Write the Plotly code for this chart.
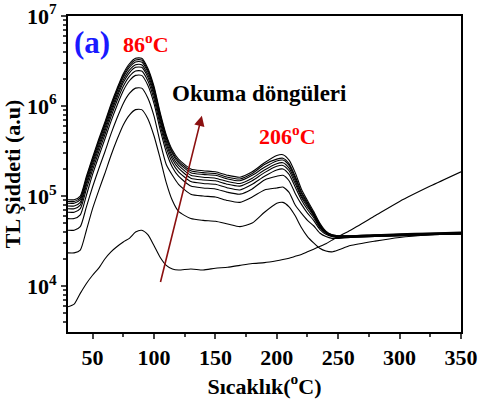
import plotly.graph_objects as go
import math

# Temperature grid (°C)
temp = [30, 35, 40, 45, 50, 55, 60, 65, 70, 75, 80, 85, 90, 95, 100, 105, 110, 115, 120,
        130, 140, 150, 160, 170, 180, 190,
        200, 205, 210, 215, 220, 225, 230, 235, 240, 245, 250,
        260, 280, 300, 325, 350]

# TL intensity (a.u.) for each readout cycle
cycle1 = [5.9e3, 6.3e3, 8.3e3, 1.07e4, 1.32e4, 1.58e4, 2.0e4, 2.40e4, 2.75e4, 3.09e4, 3.39e4, 3.98e4, 4.17e4, 3.72e4, 2.82e4, 2.09e4, 1.70e4, 1.55e4, 1.51e4,
          1.55e4, 1.51e4, 1.58e4, 1.62e4, 1.70e4, 1.78e4, 1.82e4,
          1.91e4, 1.97e4, 2.04e4, 2.14e4, 2.24e4, 2.40e4, 2.57e4, 2.75e4, 2.95e4, 3.24e4, 3.55e4,
          4.17e4, 6.03e4, 8.71e4, 1.29e5, 1.86e5]
cycle2 = [2.34e4, 2.34e4, 2.51e4, 4.17e4, 7.24e4, 1.15e5, 1.78e5, 2.82e5, 4.27e5, 6.17e5, 7.94e5, 9.12e5, 9.12e5, 7.24e5, 4.68e5, 2.63e5, 1.41e5, 8.91e4, 6.76e4,
          5.62e4, 5.37e4, 5.25e4, 4.90e4, 4.57e4, 5.01e4, 6.61e4,
          8.32e4, 8.51e4, 7.59e4, 6.03e4, 4.47e4, 3.55e4, 3.02e4, 2.63e4, 2.45e4, 2.40e4, 2.51e4,
          2.82e4, 3.16e4, 3.47e4, 3.72e4, 3.89e4]
cycle3 = [4.17e4, 4.17e4, 4.57e4, 7.59e4, 1.26e5, 2.0e5, 3.09e5, 4.90e5, 7.41e5, 1.07e6, 1.38e6, 1.58e6, 1.58e6, 1.23e6, 7.76e5, 3.98e5, 2.24e5, 1.70e5, 1.35e5,
          1.05e5, 1.0e5, 9.77e4, 8.91e4, 8.51e4, 9.77e4, 1.17e5,
          1.23e5, 1.26e5, 1.10e5, 7.94e4, 6.46e4, 5.37e4, 4.68e4, 3.89e4, 3.55e4, 3.39e4, 3.39e4,
          3.47e4, 3.55e4, 3.63e4, 3.72e4, 3.80e4]
cycle4 = [5.62e4, 5.62e4, 6.17e4, 1.02e5, 1.74e5, 2.75e5, 4.27e5, 6.76e5, 1.02e6, 1.48e6, 1.91e6, 2.19e6, 2.19e6, 1.70e6, 1.07e6, 5.50e5, 3.09e5, 2.09e5, 1.66e5,
          1.29e5, 1.23e5, 1.20e5, 1.10e5, 1.05e5, 1.20e5, 1.51e5,
          1.66e5, 1.70e5, 1.48e5, 1.07e5, 8.13e4, 6.46e4, 5.37e4, 4.27e4, 3.76e4, 3.55e4, 3.47e4,
          3.47e4, 3.55e4, 3.63e4, 3.72e4, 3.80e4]
cycle5 = [6.61e4, 6.61e4, 7.24e4, 1.20e5, 1.95e5, 3.09e5, 4.79e5, 7.59e5, 1.15e6, 1.66e6, 2.14e6, 2.45e6, 2.45e6, 1.91e6, 1.20e6, 6.17e5, 3.47e5, 2.34e5, 1.86e5,
          1.45e5, 1.38e5, 1.35e5, 1.23e5, 1.17e5, 1.35e5, 1.66e5,
          1.95e5, 2.0e5, 1.74e5, 1.26e5, 9.12e4, 7.08e4, 5.75e4, 4.47e4, 3.89e4, 3.55e4, 3.47e4,
          3.55e4, 3.63e4, 3.63e4, 3.72e4, 3.80e4]
cycle6 = [7.24e4, 7.24e4, 7.94e4, 1.32e5, 2.14e5, 3.39e5, 5.25e5, 8.32e5, 1.26e6, 1.82e6, 2.34e6, 2.69e6, 2.69e6, 2.09e6, 1.32e6, 6.76e5, 3.80e5, 2.57e5, 2.04e5,
          1.58e5, 1.51e5, 1.48e5, 1.35e5, 1.29e5, 1.48e5, 1.82e5,
          2.14e5, 2.19e5, 1.91e5, 1.38e5, 9.77e4, 7.59e4, 6.03e4, 4.57e4, 3.89e4, 3.63e4, 3.55e4,
          3.55e4, 3.63e4, 3.72e4, 3.80e4, 3.80e4]
cycle7 = [7.76e4, 7.76e4, 8.51e4, 1.41e5, 2.29e5, 3.63e5, 5.62e5, 8.91e5, 1.35e6, 1.95e6, 2.51e6, 2.88e6, 2.88e6, 2.24e6, 1.41e6, 7.24e5, 4.07e5, 2.75e5, 2.19e5,
          1.70e5, 1.62e5, 1.58e5, 1.45e5, 1.38e5, 1.58e5, 1.95e5,
          2.29e5, 2.34e5, 2.04e5, 1.48e5, 1.02e5, 7.94e4, 6.17e4, 4.68e4, 3.98e4, 3.63e4, 3.55e4,
          3.55e4, 3.63e4, 3.72e4, 3.80e4, 3.89e4]
cycle8 = [8.32e4, 8.32e4, 9.12e4, 1.51e5, 2.45e5, 3.89e5, 6.03e5, 9.55e5, 1.45e6, 2.09e6, 2.69e6, 3.09e6, 3.09e6, 2.40e6, 1.51e6, 7.76e5, 4.37e5, 2.95e5, 2.34e5,
          1.82e5, 1.74e5, 1.70e5, 1.55e5, 1.48e5, 1.70e5, 2.09e5,
          2.45e5, 2.51e5, 2.19e5, 1.58e5, 1.08e5, 8.2e4, 6.31e4, 4.79e4, 3.98e4, 3.67e4, 3.59e4,
          3.59e4, 3.67e4, 3.76e4, 3.85e4, 3.94e4]
cycle9 = [8.71e4, 8.71e4, 9.55e4, 1.58e5, 2.57e5, 4.07e5, 6.31e5, 1.0e6, 1.51e6, 2.19e6, 2.82e6, 3.24e6, 3.24e6, 2.51e6, 1.58e6, 8.13e5, 4.57e5, 3.09e5, 2.45e5,
          1.91e5, 1.82e5, 1.78e5, 1.62e5, 1.55e5, 1.78e5, 2.24e5,
          2.57e5, 2.63e5, 2.29e5, 1.66e5, 1.12e5, 8.51e4, 6.46e4, 4.90e4, 3.98e4, 3.72e4, 3.63e4,
          3.63e4, 3.72e4, 3.72e4, 3.80e4, 3.89e4]
cycle10 = [9.1e4, 9.1e4, 1.0e5, 1.66e5, 2.69e5, 4.27e5, 6.61e5, 1.05e6, 1.58e6, 2.29e6, 2.95e6, 3.39e6, 3.39e6, 2.63e6, 1.66e6, 8.51e5, 4.79e5, 3.24e5, 2.57e5,
           2.0e5, 1.91e5, 1.86e5, 1.70e5, 1.62e5, 1.86e5, 2.34e5,
           2.82e5, 2.88e5, 2.51e5, 1.82e5, 1.20e5, 8.91e4, 6.76e4, 5.01e4, 4.07e4, 3.72e4, 3.63e4,
           3.63e4, 3.72e4, 3.80e4, 3.89e4, 3.98e4]

cycles = [cycle1, cycle2, cycle3, cycle4, cycle5, cycle6, cycle7, cycle8, cycle9, cycle10]

# Tick labels
x_ticks = [50, 100, 150, 200, 250, 300, 350]
x_ticktext = ["<b>50</b>", "<b>100</b>", "<b>150</b>", "<b>200</b>", "<b>250</b>", "<b>300</b>", "<b>350</b>"]
x_minor = [75, 125, 175, 225, 275, 325]
y_ticks = [1e4, 1e5, 1e6, 1e7]
y_ticktext = ["<b>10<sup>4</sup></b>", "<b>10<sup>5</sup></b>", "<b>10<sup>6</sup></b>", "<b>10<sup>7</sup></b>"]

# Arrow (data coords: temperature, intensity)
arrow_tail = (105, 1.07e4)
arrow_head = (139, 7.8e5)

FONT = "Liberation Serif"
FS = 22

fig = go.Figure()
for i, c in enumerate(cycles):
    fig.add_trace(go.Scatter(x=temp, y=c, mode="lines",
                             line=dict(color="black", width=1.1, shape="spline", smoothing=0.6),
                             name=f"Döngü {i+1}", showlegend=False, hoverinfo="skip"))

fig.add_annotation(x=arrow_head[0], y=math.log10(arrow_head[1]),
                   ax=arrow_tail[0], ay=math.log10(arrow_tail[1]),
                   xref="x", yref="y", axref="x", ayref="y",
                   showarrow=True, arrowhead=2, arrowsize=1.3, arrowwidth=1.6,
                   arrowcolor="#8B1010", text="")

fig.add_annotation(x=0.01, y=0.915, xref="paper", yref="paper", xanchor="left", yanchor="middle",
                   text="<b>(a)</b>", showarrow=False,
                   font=dict(family=FONT, size=31, color="#1a1aff"))
fig.add_annotation(x=0.135, y=0.915, xref="paper", yref="paper", xanchor="left", yanchor="middle",
                   text="<b>86<sup>o</sup>C</b>", showarrow=False,
                   font=dict(family=FONT, size=FS, color="#ff0000"))
fig.add_annotation(x=0.26, y=0.755, xref="paper", yref="paper", xanchor="left", yanchor="middle",
                   text="<b>Okuma döngüleri</b>", showarrow=False,
                   font=dict(family=FONT, size=23, color="black"))
fig.add_annotation(x=0.482, y=0.625, xref="paper", yref="paper", xanchor="left", yanchor="middle",
                   text="<b>206<sup>o</sup>C</b>", showarrow=False,
                   font=dict(family=FONT, size=FS, color="#ff0000"))

fig.update_layout(
    width=478, height=405,
    margin=dict(l=68, r=17, t=16, b=73, autoexpand=False),
    paper_bgcolor="white", plot_bgcolor="white",
    font=dict(family=FONT, size=FS, color="black"),
    xaxis=dict(range=[30, 350], tickvals=x_ticks, ticktext=x_ticktext, ticks="outside", ticklen=5, tickwidth=2,
               tickfont=dict(family=FONT, size=FS, color="black"), automargin=False,
               showline=True, linecolor="black", linewidth=2, mirror=True,
               showgrid=False, zeroline=False,
               minor=dict(tickvals=x_minor, ticks="outside", ticklen=3, tickwidth=1.5),
               title=dict(text="<b>Sıcaklık(<sup>o</sup>C)</b>", font=dict(family=FONT, size=FS), standoff=4)),
    yaxis=dict(type="log", range=[3.49, 7], tickvals=y_ticks, ticktext=y_ticktext,
               ticks="outside", ticklen=5, tickwidth=2, automargin=False,
               tickfont=dict(family=FONT, size=FS, color="black"),
               showline=True, linecolor="black", linewidth=2, mirror=True,
               showgrid=False, zeroline=False,
               minor=dict(ticks="outside", ticklen=3, tickwidth=1.5, dtick="D1"),
               title=dict(text="<b>TL Şiddeti (a.u)</b>", font=dict(family=FONT, size=FS), standoff=0)),
)

fig.write_html("out.html")
